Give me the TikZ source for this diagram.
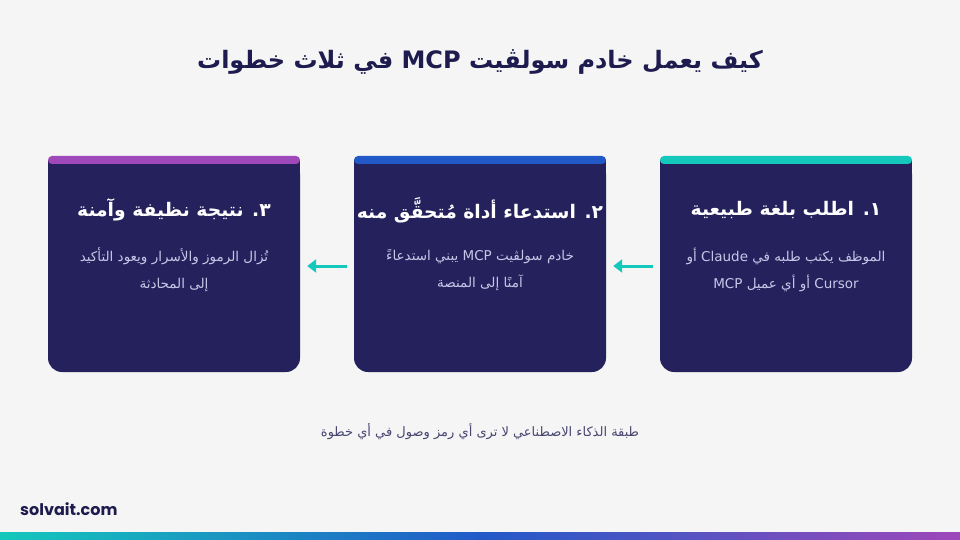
\documentclass[tikz,border=0pt]{standalone}
\usepackage{fontspec}
\setmainfont{Poppins}
\newfontfamily\arabicfont[Script=Arabic]{DejaVu Sans}
\TeXXeTstate=1
\usetikzlibrary{arrows.meta}

\definecolor{pagebg}{RGB}{245,245,245}
\definecolor{inkblue}{RGB}{30,27,78}
\definecolor{cardnavy}{RGB}{37,33,92}
\definecolor{cardtext}{RGB}{200,198,232}
\definecolor{noteink}{RGB}{72,70,112}
\definecolor{stepteal}{RGB}{20,200,188}
\definecolor{stepblue}{RGB}{33,90,200}
\definecolor{steppurple}{RGB}{158,72,186}

\tikzset{
  card/.style={fill=cardnavy, rounded corners=14pt, minimum width=252pt,
    minimum height=212pt, inner sep=0pt},
  cardhead/.style={font=\arabicfont\bfseries\fontsize{18.7}{23}\selectfont, text=white},
  cardbody/.style={font=\arabicfont\fontsize{13.5}{27}\selectfont, text=cardtext, align=center},
  flow/.style={stepteal, line width=3pt, -{Triangle[length=9pt,width=13pt]},
    shorten <=7pt, shorten >=7pt},
}

\begin{document}
\begin{tikzpicture}[x=1pt,y=-1pt]
  \def\barh{8}
  \coordinate (P1) at (786,266);
  \coordinate (P2) at (480,266);
  \coordinate (P3) at (174,266);

  % Page
  \fill[pagebg] (0,0) rectangle (960,540);
  \useasboundingbox (0,0) rectangle (960,540);

  % Title
  \node[font=\arabicfont\bfseries\fontsize{24}{28}\selectfont, text=inkblue] (title) at (480,62)
    {\beginR كيف يعمل خادم سولڤيت \beginL MCP\endL{} في ثلاث خطوات\endR};

  % Cards
  \node[card] (c1) at (P1) {};
  \node[card] (c2) at (P2) {};
  \node[card] (c3) at (P3) {};
  \fill[cardnavy] (660,160) rectangle (912,180);
  \fill[cardnavy] (354,160) rectangle (606,180);
  \fill[cardnavy] (48,160) rectangle (300,180);

  % Top bars
  \fill[stepteal, rounded corners=4pt] (660,156) rectangle (912,156+\barh);
  \fill[stepblue, rounded corners=4pt] (354,156) rectangle (606,156+\barh);
  \fill[steppurple, rounded corners=4pt] (48,156) rectangle (300,156+\barh);

  % Card titles
  \node[cardhead] (h1) at (786,210) {\beginR ١. اطلب بلغة طبيعية\endR};
  \node[cardhead] (h2) at (480,210) {\beginR ٢. استدعاء أداة مُتحقَّق منه\endR};
  \node[cardhead] (h3) at (174,210) {\beginR ٣. نتيجة نظيفة وآمنة\endR};

  % Card texts
  \node[cardbody] (b1) at (786,270)
    {\beginR الموظف يكتب طلبه في \beginL Claude\endL{} أو\endR\\
     \beginR \beginL Cursor\endL{} أو أي عميل \beginL MCP\endL\endR};
  \node[cardbody] (b2) at (480,270)
    {\beginR خادم سولڤيت \beginL MCP\endL{} يبني استدعاءً\endR\\
     \beginR آمنًا إلى المنصة\endR};
  \node[cardbody] (b3) at (174,270)
    {\beginR تُزال الرموز والأسرار ويعود التأكيد\endR\\
     \beginR إلى المحادثة\endR};

  % Arrows
  \draw[flow] (c1.west) -- (c2.east);
  \draw[flow] (c2.west) -- (c3.east);

  % Note
  \node[font=\arabicfont\fontsize{13}{15}\selectfont, text=noteink] (note) at (480,432)
    {\beginR طبقة الذكاء الاصطناعي لا ترى أي رمز وصول في أي خطوة\endR};

  % Footer
  \node[font=\bfseries\fontsize{16}{18}\selectfont, text=inkblue, anchor=west, inner sep=0pt]
    (site) at (20,509) {solvait.com};
  \shade[left color=stepteal, right color=stepblue] (0,532) rectangle (480,540);
  \shade[left color=stepblue, right color=steppurple] (480,532) rectangle (960,540);
\end{tikzpicture}
\end{document}
